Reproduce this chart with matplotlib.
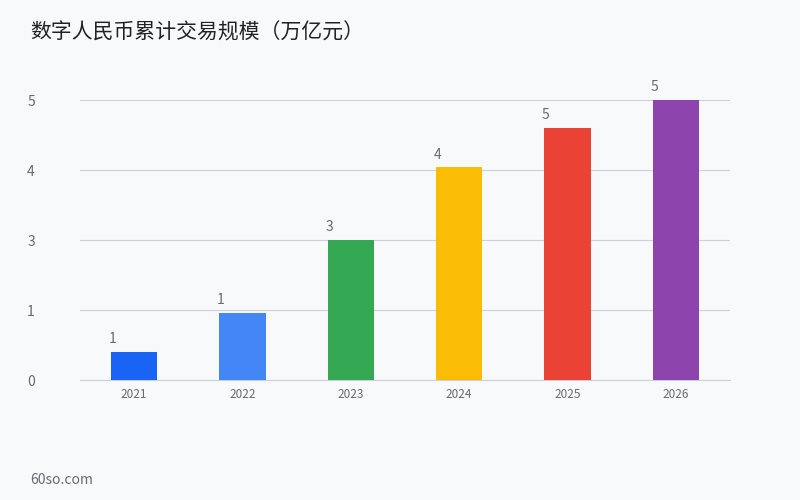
import matplotlib
matplotlib.use("Agg")
import matplotlib.pyplot as plt
import math

plt.rcParams['font.family'] = ['Noto Sans CJK SC', 'DejaVu Sans']

years = ['2021', '2022', '2023', '2024', '2025', '2026']
values = [0.5, 1.2, 2.5, 3.8, 4.5, 5.0]
colors = ['#1a64f5', '#4287f5', '#34a853', '#fbbc05', '#ea4335', '#8e44ad']
yticks = [0, 1.25, 2.5, 3.75, 5]

def r(v):
    return str(int(math.floor(v + 0.5)))

fig = plt.figure(figsize=(8, 5), dpi=100, facecolor='#f8f9fb')
ax = fig.add_axes([0.1, 0.24, 0.8125, 0.56], facecolor='#f8f9fb')
x = range(len(years))
ax.bar(x, values, width=0.425, color=colors, zorder=3)
for i, v in enumerate(values):
    ax.text(i - 0.2, v + 0.1, r(v), ha='center', va='bottom', fontsize=10, color='#666a77')
ax.set_xlim(-0.5, 5.5)
ax.set_ylim(0, 5)
ax.set_yticks(yticks)
ax.set_yticklabels([r(t) for t in yticks], fontsize=10, color='#666a77')
ax.set_xticks(list(x))
ax.set_xticklabels(years, fontsize=8.5, color='#666a77')
ax.yaxis.grid(True, color='#ccd0dc', linewidth=0.8, zorder=0)
ax.tick_params(length=0)
ax.tick_params(axis='y', pad=38)
ax.tick_params(axis='x', pad=6)
for s in ['top', 'right', 'left']:
    ax.spines[s].set_visible(False)
ax.spines['bottom'].set_color('#ccd0dc')
for lbl in ax.get_yticklabels():
    lbl.set_horizontalalignment('left')

fig.text(0.0375, 0.935, '数字人民币累计交易规模（万亿元）', fontsize=15, color='#222222', va='center')
fig.text(0.0375, 0.04, '60so.com', fontsize=10, color='#666a77', va='center')
fig.savefig('out.png', dpi=100, facecolor=fig.get_facecolor())
